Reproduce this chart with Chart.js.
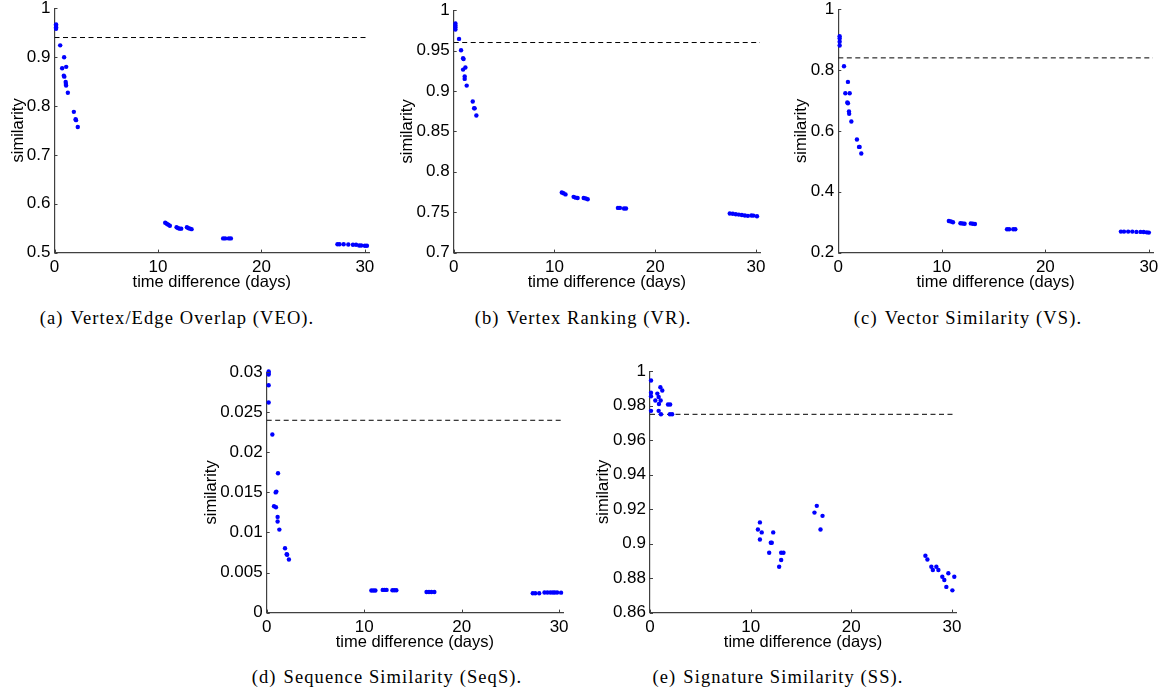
<!DOCTYPE html>
<html>
<head>
<meta charset="utf-8">
<script src="https://cdn.jsdelivr.net/npm/chart.js@4.4.1/dist/chart.umd.min.js"></script>
<style>
  html, body { margin:0; padding:0; background:#fff; }
  body { width:1163px; height:691px; position:relative; overflow:hidden; }
  canvas { position:absolute; }
  .cap { position:absolute; font-family:"Liberation Serif", serif; font-size:18.5px; color:#000;
         white-space:nowrap; transform:translate(-50%,-50%); letter-spacing:1.1px; }
  .cap .lbl { margin-right:7px; }
</style>
</head>
<body>
<script>
// ---------------- DATA ----------------
const xTicks = [0, 10, 20, 30];
const xMax = 30.4;

// (a) Vertex/Edge Overlap
const daysVEO = [0.15,0.15,0.15,0.15,0.55,0.74,0.93,1.13,0.9,0.95,1.08,1.1,1.12,1.29,1.87,2.04,2.08,2.25,10.7,10.85,11.0,11.15,11.8,11.95,12.1,12.25,12.8,12.95,13.1,13.25,16.3,16.5,16.85,17.05,27.35,27.55,27.95,28.4,28.85,29.15,29.45,29.65,30.0,30.2];
const simVEO  = [0.967,0.964,0.961,0.958,0.924,0.877,0.8995,0.880,0.862,0.860,0.849,0.845,0.842,0.827,0.788,0.773,0.771,0.757,0.561,0.559,0.557,0.555,0.552,0.550,0.549,0.549,0.552,0.550,0.549,0.548,0.529,0.529,0.529,0.529,0.517,0.517,0.517,0.5165,0.516,0.516,0.5145,0.5145,0.514,0.514];
const thrVEO = 0.94;
const yTicksVEO = [0.5, 0.6, 0.7, 0.8, 0.9, 1];

// (b) Vertex Ranking
const daysVR = [0.17,0.17,0.17,0.17,0.53,0.73,0.93,0.98,0.93,1.16,1.09,1.09,1.29,1.89,2.03,2.08,2.25,10.73,10.9,11.1,11.9,12.1,12.3,12.9,13.1,13.3,16.3,16.5,16.9,17.1,27.4,27.7,28.0,28.3,28.6,28.9,29.2,29.55,29.75,30.1];
const simVR  = [0.9835,0.981,0.979,0.976,0.9645,0.9505,0.9405,0.9395,0.9265,0.929,0.918,0.915,0.9067,0.887,0.8787,0.8785,0.8696,0.7743,0.7734,0.772,0.769,0.768,0.7676,0.7676,0.767,0.766,0.7553,0.7553,0.7545,0.7545,0.7483,0.748,0.7475,0.747,0.7465,0.746,0.7455,0.746,0.7458,0.745];
const thrVR = 0.96;
const yTicksVR = [0.7, 0.75, 0.8, 0.85, 0.9, 0.95, 1];

// (c) Vector Similarity
const daysVS = [0.13,0.13,0.13,0.13,0.55,0.93,0.68,1.1,0.87,0.93,1.03,1.05,1.26,1.8,2.0,2.06,2.22,10.68,10.88,11.08,11.8,12.0,12.2,12.8,13.0,13.2,16.3,16.5,16.9,17.1,27.3,27.6,28.0,28.4,28.8,29.2,29.5,29.8,30.0];
const simVS  = [0.911,0.9036,0.893,0.8806,0.8126,0.761,0.7238,0.7238,0.6932,0.691,0.6636,0.656,0.6307,0.5715,0.5474,0.5474,0.5255,0.304,0.302,0.300,0.2964,0.2955,0.295,0.296,0.295,0.294,0.2767,0.2767,0.2767,0.2767,0.269,0.269,0.269,0.269,0.268,0.268,0.2675,0.2665,0.2658];
const thrVS = 0.84;
const yTicksVS = [0.2, 0.4, 0.6, 0.8, 1];

// (d) Sequence Similarity
const daysSeqS = [0.2,0.2,0.2,0.2,0.2,0.58,1.16,0.99,0.92,0.75,0.95,1.12,1.12,1.3,1.88,2.05,2.1,2.28,10.74,10.95,11.15,11.9,12.1,12.3,12.9,13.1,13.3,16.4,16.65,16.9,17.2,27.3,27.55,27.96,28.5,28.8,29.1,29.35,29.55,29.8,30.2];
const simSeqS  = [0.0301,0.0299,0.0297,0.02838,0.02621,0.02222,0.01739,0.0151,0.0150,0.01327,0.01315,0.01194,0.01136,0.01036,0.00803,0.00728,0.00722,0.00662,0.00275,0.00275,0.00275,0.00283,0.00283,0.00283,0.00279,0.00279,0.00278,0.00258,0.00258,0.00258,0.00258,0.00241,0.00241,0.00242,0.0025,0.0025,0.0025,0.0025,0.0025,0.0025,0.00249];
const thrSeqS = 0.024;
const yTicksSeqS = [0, 0.005, 0.01, 0.015, 0.02, 0.025, 0.03];

// (e) Signature Similarity
const daysSS = [0.1,0.1,0.1,0.1,0.53,0.73,0.86,0.89,0.86,1.09,1.03,1.06,1.22,1.79,2.0,1.98,2.2,10.72,10.92,10.92,11.1,11.84,12.0,12.1,12.24,12.83,13.03,13.03,13.26,16.34,16.57,16.94,17.14,27.36,27.56,27.95,28.1,28.45,28.65,29.04,29.24,29.44,29.64,30.04,30.23];
const simSS  = [0.9946,0.9875,0.9855,0.977,0.983,0.987,0.985,0.981,0.977,0.975,0.9907,0.983,0.9888,0.9807,0.9807,0.975,0.975,0.9082,0.9123,0.9024,0.9065,0.8947,0.9005,0.9005,0.9065,0.8866,0.8905,0.8947,0.8947,0.918,0.9219,0.9082,0.9161,0.893,0.8908,0.8866,0.8847,0.8866,0.8847,0.8808,0.8789,0.8749,0.8828,0.8729,0.8808];
const thrSS = 0.975;
const yTicksSS = [0.86, 0.88, 0.9, 0.92, 0.94, 0.96, 0.98, 1];

const captions = [
  ["(a)", "Vertex/Edge Overlap (VEO)."],
  ["(b)", "Vertex Ranking (VR)."],
  ["(c)", "Vector Similarity (VS)."],
  ["(d)", "Sequence Similarity (SeqS)."],
  ["(e)", "Signature Similarity (SS)."]
];

// ---------------- LAYOUT ----------------
const panels = [
  { days: daysVEO,  sim: simVEO,  thr: thrVEO,  yTicks: yTicksVEO,  L: 54.5,  R: 369,    T: 8,     B: 253,   titleX: 18.5,  cap: [177, 318] },
  { days: daysVR,   sim: simVR,   thr: thrVR,   yTicks: yTicksVR,   L: 453.7, R: 760,    T: 10,    B: 252.3, titleX: 408,   cap: [583, 318] },
  { days: daysVS,   sim: simVS,   thr: thrVS,   yTicks: yTicksVS,   L: 838.3, R: 1152.7, T: 9,     B: 252.3, titleX: 802,   cap: [968, 318] },
  { days: daysSeqS, sim: simSeqS, thr: thrSeqS, yTicks: yTicksSeqS, L: 266.7, R: 563,    T: 372.3, B: 612.7, titleX: 211.5, cap: [387, 676.5] },
  { days: daysSS,   sim: simSS,   thr: thrSS,   yTicks: yTicksSS,   L: 650,   R: 956,    T: 370.7, B: 612.7, titleX: 603.5, cap: [778, 676.5] }
];

const TICK_FONT = { family: "'Liberation Sans', Arial, sans-serif", size: 17 };
const TITLE_FONT = { family: "'Liberation Sans', Arial, sans-serif", size: 16.5, lineHeight: 1.2 };
const AXIS_COLOR = '#404040';
const PAD_T = 14, PAD_R = 14;
const XTITLE_OFF = 29.5;

const inwardTicks = {
  id: 'inwardTicks',
  afterDatasetsDraw(chart) {
    const ctx = chart.ctx, x = chart.scales.x, y = chart.scales.y;
    const a = chart.chartArea;
    ctx.save();
    ctx.strokeStyle = AXIS_COLOR; ctx.lineWidth = 1;
    x.ticks.forEach(t => { const px = Math.round(x.getPixelForValue(t.value)) + 0.5;
      ctx.beginPath(); ctx.moveTo(px, a.bottom); ctx.lineTo(px, a.bottom - 3); ctx.stroke(); });
    y.ticks.forEach(t => { const py = Math.round(y.getPixelForValue(t.value)) + 0.5;
      ctx.beginPath(); ctx.moveTo(a.left, py); ctx.lineTo(a.left + 3, py); ctx.stroke(); });
    ctx.restore();
  }
};

panels.forEach((p, i) => {
  const halfLine = TITLE_FONT.size * TITLE_FONT.lineHeight / 2;
  const cLeft = Math.round(p.titleX - halfLine);
  const cTop = Math.round(p.T - PAD_T);
  const XH = XTITLE_OFF + halfLine;
  const yW = p.L - cLeft;
  const cW = Math.round(p.R + PAD_R - cLeft);
  const cH = Math.round(p.B + XH - cTop);
  const cv = document.createElement('canvas');
  cv.width = cW; cv.height = cH;
  cv.style.left = cLeft + 'px'; cv.style.top = cTop + 'px';
  cv.style.width = cW + 'px'; cv.style.height = cH + 'px';
  document.body.appendChild(cv);

  const yMin = p.yTicks[0], yMax = p.yTicks[p.yTicks.length - 1];
  new Chart(cv, {
    type: 'scatter',
    data: {
      datasets: [
        { type: 'scatter', order: 1, clip: false,
          data: p.days.map((d, k) => ({ x: d, y: p.sim[k] })),
          backgroundColor: '#0000ff', borderWidth: 0, pointRadius: 2.2 },
        { type: 'line', order: 2,
          data: [{ x: 0, y: p.thr }, { x: xMax, y: p.thr }],
          borderColor: '#000', borderWidth: 1, borderDash: [5, 3.5],
          pointRadius: 0, fill: false }
      ]
    },
    options: {
      responsive: false, animation: false, devicePixelRatio: 1,
      layout: { padding: { left: 0, top: PAD_T, right: PAD_R, bottom: 0 } },
      plugins: { legend: { display: false }, tooltip: { enabled: false } },
      scales: {
        x: {
          type: 'linear', min: 0, max: xMax,
          afterBuildTicks: s => { s.ticks = xTicks.map(v => ({ value: v })); },
          afterFit: s => { s.height = XH; },
          grid: { display: false, drawTicks: false },
          border: { display: true, color: AXIS_COLOR, width: 1.2 },
          ticks: { font: TICK_FONT, color: '#000', padding: 4.5, maxRotation: 0, autoSkip: false,
                   callback: v => String(v) },
          title: { display: true, text: 'time difference (days)', font: TITLE_FONT, color: '#000', padding: 0 }
        },
        y: {
          type: 'linear', min: yMin, max: yMax,
          afterBuildTicks: s => { s.ticks = p.yTicks.map(v => ({ value: v })); },
          afterFit: s => { s.width = yW; },
          grid: { display: false, drawTicks: false },
          border: { display: true, color: AXIS_COLOR, width: 1.2 },
          ticks: { font: TICK_FONT, color: '#000', padding: 4, autoSkip: false,
                   callback: v => String(v) },
          title: { display: true, text: 'similarity', font: TITLE_FONT, color: '#000', padding: 0 }
        }
      }
    },
    plugins: [inwardTicks]
  });

  const cap = document.createElement('div');
  cap.className = 'cap';
  cap.style.left = p.cap[0] + 'px'; cap.style.top = p.cap[1] + 'px';
  const lbl = document.createElement('span'); lbl.className = 'lbl'; lbl.textContent = captions[i][0];
  cap.appendChild(lbl);
  cap.appendChild(document.createTextNode(captions[i][1]));
  document.body.appendChild(cap);
});
</script>
</body>
</html>
